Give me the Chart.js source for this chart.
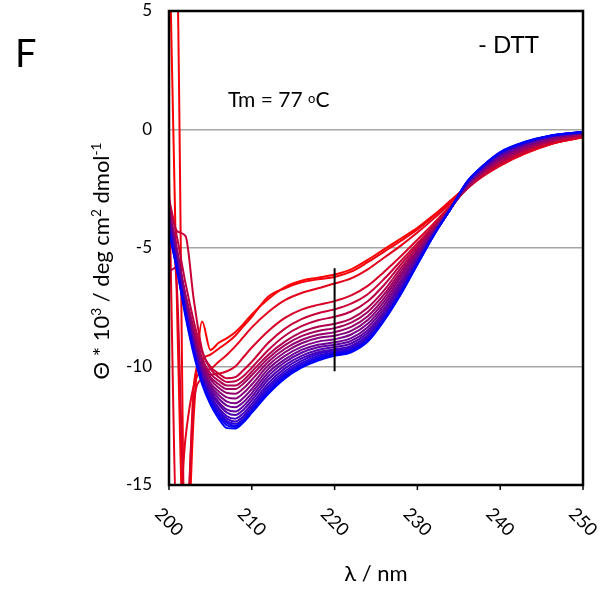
<!DOCTYPE html>
<html>
<head>
<meta charset="utf-8">
<script src="https://cdn.jsdelivr.net/npm/chart.js@4.4.1/dist/chart.umd.min.js"></script>
<style>
html, body { margin: 0; padding: 0; background: #fff; }
</style>
</head>
<body>
<canvas id="cd" width="613" height="590"></canvas>
<script>
// wavelength (nm) of each sample
const wavelengths = [200, 201, 202, 203, 204, 205, 206, 207, 208, 209, 210, 212, 214, 216, 218, 220, 222, 224, 226, 228, 230, 232, 234, 236, 238, 240, 243, 246, 250];

// theta * 10^3, hottest scan (red) first, coldest (blue) last
const scan01 = [9, -8, -19, -12, -8.1, -9.3, -9.0, -8.8, -8.55, -8.2, -7.8, -7.15, -6.65, -6.38, -6.25, -6.12, -5.9, -5.5, -5.05, -4.6, -4.15, -3.6, -3.0, -2.4, -1.9, -1.5, -1.0, -0.62, -0.32];
const scan02 = [15, 7, -18, -10.8, -9.7, -9.5, -9.25, -9.0, -8.7, -8.3, -7.9, -7.05, -6.7, -6.45, -6.32, -6.22, -6.0, -5.6, -5.15, -4.7, -4.22, -3.65, -3.02, -2.42, -1.92, -1.52, -1.02, -0.63, -0.33];
const scan03 = [-2, -17, -13, -10.8, -10.2, -10.1, -9.8, -9.5, -9.15, -8.75, -8.35, -7.7, -7.2, -6.9, -6.7, -6.5, -6.28, -5.9, -5.4, -4.9, -4.35, -3.75, -3.1, -2.45, -1.95, -1.52, -1.0, -0.62, -0.32];
const scan04 = [-3, -7, -17, -11.5, -10.5, -10.35, -10.3, -10.2, -10.0, -9.6, -9.2, -8.5, -7.95, -7.6, -7.4, -7.24, -7.0, -6.6, -6.0, -5.35, -4.65, -3.95, -3.2, -2.5, -1.95, -1.5, -0.98, -0.6, -0.3];
const scan05 = [-3.2, -4.3, -4.5, -7.2, -9.3, -10.0, -10.3, -10.5, -10.45, -10.15, -9.8, -9.0, -8.4, -8.0, -7.75, -7.59, -7.35, -6.95, -6.3, -5.55, -4.8, -4.05, -3.25, -2.5, -1.9, -1.45, -0.92, -0.55, -0.27];
const scan06 = [-2.9, -4.6, -6.5, -8.1, -9.4, -10.1, -10.45, -10.65, -10.62, -10.4, -10.05, -9.3, -8.7, -8.3, -8.05, -7.9, -7.68, -7.25, -6.55, -5.7, -4.9, -4.1, -3.28, -2.48, -1.85, -1.4, -0.88, -0.52, -0.25];
const scan07 = [-6.0, -5.8, -7.0, -8.4, -9.65, -10.3, -10.6, -10.8, -10.8, -10.58, -10.22, -9.5, -8.95, -8.55, -8.32, -8.2, -7.98, -7.52, -6.78, -5.85, -5.0, -4.15, -3.3, -2.45, -1.8, -1.35, -0.83, -0.48, -0.22];
const scan08 = [-3.3, -5.1, -7.0, -8.6, -9.8, -10.45, -10.75, -10.95, -10.95, -10.72, -10.37, -9.65, -9.1, -8.72, -8.5, -8.38, -8.15, -7.7, -6.95, -5.98, -5.08, -4.2, -3.32, -2.42, -1.76, -1.3, -0.8, -0.45, -0.2];
const scan09 = [-3.4, -5.2, -7.1, -8.7, -9.9, -10.55, -10.9, -11.12, -11.15, -10.92, -10.56, -9.8, -9.25, -8.88, -8.66, -8.55, -8.33, -7.88, -7.1, -6.1, -5.16, -4.24, -3.33, -2.4, -1.73, -1.25, -0.76, -0.42, -0.18];
const scan10 = [-3.5, -5.3, -7.2, -8.8, -10.0, -10.7, -11.05, -11.3, -11.35, -11.12, -10.76, -9.95, -9.4, -9.02, -8.8, -8.7, -8.5, -8.04, -7.25, -6.22, -5.24, -4.28, -3.34, -2.37, -1.7, -1.2, -0.72, -0.39, -0.16];
const scan11 = [-3.6, -5.4, -7.3, -8.9, -10.1, -10.8, -11.2, -11.48, -11.55, -11.32, -10.95, -10.1, -9.55, -9.17, -8.95, -8.85, -8.65, -8.2, -7.4, -6.35, -5.32, -4.32, -3.35, -2.34, -1.67, -1.16, -0.68, -0.36, -0.14];
const scan12 = [-3.7, -5.5, -7.4, -9.0, -10.2, -10.9, -11.35, -11.65, -11.72, -11.5, -11.12, -10.25, -9.7, -9.3, -9.08, -8.98, -8.8, -8.34, -7.54, -6.46, -5.39, -4.35, -3.35, -2.31, -1.64, -1.12, -0.65, -0.34, -0.13];
const scan13 = [-3.8, -5.6, -7.5, -9.1, -10.3, -11.0, -11.5, -11.82, -11.9, -11.67, -11.28, -10.4, -9.82, -9.42, -9.19, -9.08, -8.92, -8.47, -7.66, -6.56, -5.45, -4.38, -3.35, -2.29, -1.61, -1.09, -0.62, -0.32, -0.12];
const scan14 = [-3.9, -5.7, -7.55, -9.15, -10.4, -11.1, -11.6, -11.95, -12.05, -11.82, -11.43, -10.55, -9.95, -9.55, -9.3, -9.18, -9.03, -8.58, -7.76, -6.65, -5.5, -4.4, -3.35, -2.27, -1.58, -1.06, -0.6, -0.3, -0.11];
const scan15 = [-4.0, -5.75, -7.6, -9.2, -10.45, -11.2, -11.75, -12.1, -12.2, -11.97, -11.58, -10.7, -10.08, -9.66, -9.4, -9.27, -9.13, -8.68, -7.84, -6.73, -5.55, -4.41, -3.35, -2.25, -1.56, -1.03, -0.58, -0.29, -0.11];
const scan16 = [-4.1, -5.8, -7.65, -9.25, -10.5, -11.3, -11.85, -12.2, -12.32, -12.1, -11.7, -10.82, -10.2, -9.76, -9.47, -9.34, -9.2, -8.76, -7.9, -6.8, -5.6, -4.42, -3.35, -2.24, -1.54, -1.01, -0.56, -0.28, -0.1];
const scan17 = [-4.15, -5.85, -7.7, -9.3, -10.55, -11.4, -11.95, -12.3, -12.42, -12.2, -11.8, -10.93, -10.3, -9.86, -9.55, -9.4, -9.26, -8.82, -7.96, -6.86, -5.63, -4.43, -3.35, -2.23, -1.53, -0.99, -0.55, -0.27, -0.1];
const scan18 = [-4.2, -5.9, -7.75, -9.35, -10.6, -11.45, -12.0, -12.38, -12.5, -12.27, -11.87, -11.03, -10.38, -9.94, -9.62, -9.45, -9.31, -8.87, -8.0, -6.9, -5.66, -4.44, -3.35, -2.22, -1.52, -0.97, -0.54, -0.27, -0.1];
const scan19 = [-4.3, -5.95, -7.8, -9.4, -10.65, -11.5, -12.1, -12.48, -12.55, -12.32, -11.92, -11.1, -10.45, -10.0, -9.69, -9.5, -9.36, -8.91, -8.03, -6.93, -5.68, -4.45, -3.35, -2.21, -1.51, -0.96, -0.53, -0.26, -0.1];
const scan20 = [-4.3, -6.0, -7.9, -9.5, -10.75, -11.6, -12.2, -12.6, -12.62, -12.35, -11.95, -11.15, -10.5, -10.05, -9.75, -9.55, -9.4, -8.95, -8.05, -6.95, -5.7, -4.45, -3.35, -2.2, -1.5, -0.95, -0.52, -0.26, -0.1];

const spectra = [scan01, scan02, scan03, scan04, scan05, scan06, scan07, scan08, scan09, scan10,
                 scan11, scan12, scan13, scan14, scan15, scan16, scan17, scan18, scan19, scan20];

const xTicks = [200, 210, 220, 230, 240, 250];
const yGridLines = [0, -5, -10];

// black bar at 220 nm
const markX = 220;
const markRange = [-5.85, -10.2];

const FONT = "Lato, 'Open Sans', sans-serif";

function scanColor(i, n) {
    let t = i / (n - 1);
    return "rgb(" + Math.round(255 * (1 - t)) + ",0," + Math.round(255 * t) + ")";
}

let datasets = [];
for (let i = 0; i < spectra.length; i++) {
    datasets.push({
        data: wavelengths.map((w, j) => ({x: w, y: spectra[i][j]})),
        borderColor: scanColor(i, spectra.length),
        borderWidth: 2,
        pointRadius: 0,
        cubicInterpolationMode: 'monotone',
        order: spectra.length - i
    });
}
datasets.push({
    data: markRange.map(v => ({x: markX, y: v})),
    borderColor: "#000",
    borderWidth: 2,
    pointRadius: 0,
    order: 0
});

// draws text pieces, each piece is [text, sizeFactor, raise]
function richText(ctx, parts, x, y, size, align) {
    let total = 0;
    parts.forEach(p => {
        ctx.font = (size * p[1]) + "px " + FONT;
        total += ctx.measureText(p[0]).width;
    });
    let cx = align === "center" ? x - total / 2 : x;
    ctx.textAlign = "left";
    ctx.textBaseline = "alphabetic";
    parts.forEach(p => {
        ctx.font = (size * p[1]) + "px " + FONT;
        ctx.fillText(p[0], cx, y - p[2]);
        cx += ctx.measureText(p[0]).width;
    });
}

const decorations = {
    id: "decorations",
    afterDraw(chart) {
        const ctx = chart.ctx;
        const area = chart.chartArea;
        const xs = chart.scales.x;
        ctx.save();
        ctx.fillStyle = "#000";
        ctx.strokeStyle = "#000";

        // frame
        ctx.lineWidth = 2.5;
        ctx.strokeRect(area.left, area.top, area.right - area.left, area.bottom - area.top);

        // x tick marks and rotated labels
        ctx.lineWidth = 1.5;
        xTicks.forEach(v => {
            let px = xs.getPixelForValue(v);
            ctx.beginPath();
            ctx.moveTo(px, area.bottom);
            ctx.lineTo(px, area.bottom + 5);
            ctx.stroke();

            ctx.save();
            ctx.translate(px, 522);
            ctx.rotate(Math.PI / 4);
            ctx.font = "18px " + FONT;
            ctx.textAlign = "center";
            ctx.textBaseline = "middle";
            ctx.fillText(String(v), 0, 0);
            ctx.restore();
        });

        // axis titles
        richText(ctx, [["λ / nm", 1, 0]], (area.left + area.right) / 2, 581, 22, "center");

        ctx.save();
        ctx.translate(109, 261);
        ctx.rotate(-Math.PI / 2);
        richText(ctx, [
            ["Θ * 10", 1, 0], ["3", 0.62, 8],
            [" / deg cm", 1, 0], ["2", 0.62, 8],
            [" dmol", 1, 0], ["-1", 0.62, 8]
        ], 0, 0, 22, "center");
        ctx.restore();

        // panel letter and notes
        richText(ctx, [["F", 1, 0]], 15, 67, 38, "left");
        richText(ctx, [["- DTT", 1, 0]], 478, 53, 24, "left");
        richText(ctx, [["Tm = 77 ", 1, 0], ["o", 0.62, 4], ["C", 1, 0]], 228, 107, 21, "left");

        ctx.restore();
    }
};

new Chart(document.getElementById("cd").getContext("2d"), {
    type: "line",
    data: { datasets: datasets },
    options: {
        responsive: false,
        animation: false,
        devicePixelRatio: 1,
        layout: { padding: { top: 11, right: 30, bottom: 0, left: 0 } },
        scales: {
            x: {
                type: "linear",
                min: 200,
                max: 250,
                ticks: { display: false },
                grid: { display: false },
                border: { display: false },
                afterFit: s => { s.height = 105; s.paddingLeft = 0; s.paddingRight = 0; }
            },
            y: {
                min: -15,
                max: 5,
                ticks: {
                    stepSize: 5,
                    padding: 17,
                    color: "#000",
                    font: { family: FONT, size: 17 }
                },
                grid: {
                    drawTicks: false,
                    lineWidth: 1.5,
                    color: c => yGridLines.includes(c.tick.value) ? "#a6a6a6" : "rgba(0,0,0,0)"
                },
                border: { display: false },
                afterFit: s => { s.width = 169; s.paddingTop = 0; s.paddingBottom = 0; }
            }
        },
        plugins: {
            legend: { display: false },
            tooltip: { enabled: false }
        }
    },
    plugins: [decorations]
});
</script>
</body>
</html>
